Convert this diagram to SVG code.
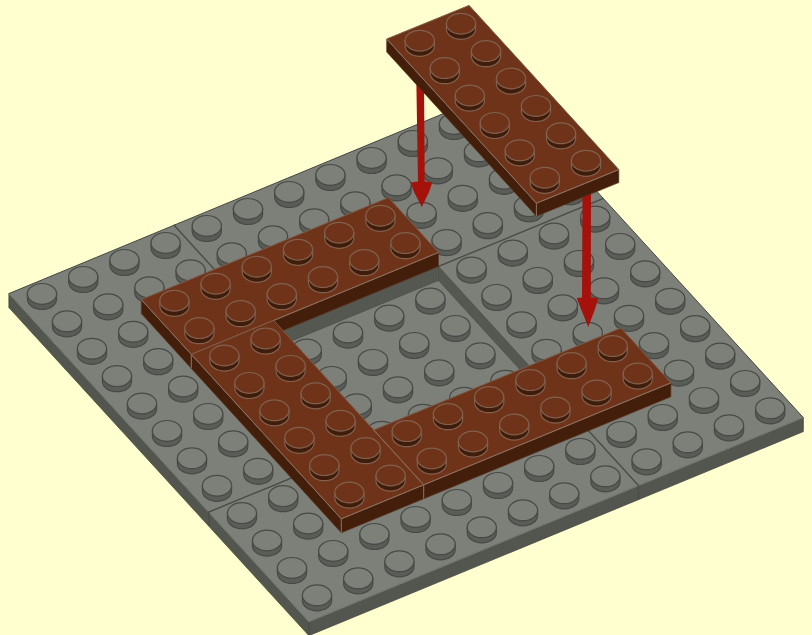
<svg xmlns="http://www.w3.org/2000/svg" width="812" height="635" viewBox="0 0 812 635">
<style>
.gt{fill:#7d7f79;stroke:#464843;stroke-width:1;stroke-linejoin:round}
.gs{fill:#53554f;stroke:#464843;stroke-width:.8;stroke-linejoin:round}
.gw{fill:#555751;stroke:#4a4c47;stroke-width:.6;stroke-linejoin:round}
.seam{fill:none;stroke:#4a4c47;stroke-width:1.4}
.edge{fill:none;stroke:#898b85;stroke-width:.8;stroke-linejoin:round}
.bt{fill:#6e3318;stroke:#7b5a47;stroke-width:1;stroke-linejoin:round}
.bs{fill:#431e0a;stroke:#5a3823;stroke-width:.7;stroke-linejoin:round}
.bedge{fill:none;stroke:#8c6f5e;stroke-width:1;stroke-linejoin:round}
.arrow{fill:#a5120c}
.sgb{fill:#5a5c57;stroke:#484a46;stroke-width:1.2}
.sgt{fill:#7d7f79;stroke:#484a46;stroke-width:1.2}
.sbb{fill:#401c0a;stroke:#80614f;stroke-width:1.2}
.sbt{fill:#6e3318;stroke:#80614f;stroke-width:1.2}
</style>
<defs>
<g id="s"><path class="sgb" d="M-14.6,.4V5.6A14.6,10.4 0 0 0 14.6,5.6V.4Z"/><ellipse class="sgt" cy=".4" rx="14.6" ry="10.4"/></g>
<g id="b"><path class="sbb" d="M-14.6,.4V5.6A14.6,10.4 0 0 0 14.6,5.6V.4Z"/><ellipse class="sbt" cy=".4" rx="14.6" ry="10.4"/></g>
<g id="rowEnds"><use href="#s"/><use href="#s" x="41.2" y="-17"/><use href="#s" x="412" y="-170"/><use href="#s" x="453.2" y="-187"/></g>
<g id="rowSides"><use href="#rowEnds"/><use href="#s" x="329.6" y="-136"/><use href="#s" x="370.8" y="-153"/></g>
<g id="rowMid"><use href="#s" x="164.8" y="-68"/><use href="#s" x="206" y="-85"/><use href="#s" x="247.2" y="-102"/><use href="#s" x="288.4" y="-119"/></g>
<g id="rowAll"><use href="#rowSides"/><use href="#s" x="82.4" y="-34"/><use href="#s" x="123.6" y="-51"/><use href="#rowMid"/></g>
<g id="b2"><use href="#b"/><use href="#b" x="41.2" y="-17"/></g>
<g id="b6"><use href="#b2"/><use href="#b2" x="82.4" y="-34"/><use href="#b2" x="164.8" y="-68"/></g>
</defs>
<rect id="background" width="812" height="635" fill="#ffffd0"/>

<g id="baseplate">
<polygon class="gs" points="8.9,293.6 308.9,621.8 308.9,635.6 8.9,307.6"/>
<polygon class="gs" points="308.9,621.8 803.3,417.6 803.3,431.6 308.9,635.6"/>
<polygon class="gt" points="8.9,293.6 503.3,88.8 803.3,417.6 308.9,621.8"/>
<polyline class="edge" points="8.9,293.6 308.9,621.8 803.3,417.6"/>
<path class="seam" d="M173.7,224.8L273.7,334.4M438.5,266.4L603.3,198.4M538.5,376L638.5,485.6V499.6M373.7,444L208.9,512V526"/>
</g>

<g id="hole">
<polygon class="gt" style="stroke:none" points="273.7,334.4 438.5,266.4 538.5,376 373.7,444"/>
<polygon class="gw" points="273.7,334.4 438.5,266.4 438.5,280.4 273.7,348.4"/>
<polygon class="gw" points="438.5,266.4 538.5,376 538.5,390 438.5,280.4"/>
<use href="#rowMid" x="142" y="417.1"/>
<use href="#rowMid" x="167" y="444.5"/>
<use href="#rowMid" x="192" y="471.9"/>
<use href="#rowMid" x="217" y="499.3"/>
</g>

<g id="base-studs">
<use href="#rowAll" x="42" y="293.5"/>
<use href="#rowAll" x="67" y="320.9"/>
<use href="#rowSides" x="92" y="348.3"/>
<use href="#rowSides" x="117" y="375.7"/>
<use href="#rowSides" x="142" y="403.1"/>
<use href="#rowSides" x="167" y="430.5"/>
<use href="#rowSides" x="192" y="457.9"/>
<use href="#rowSides" x="217" y="485.3"/>
<use href="#rowEnds" x="242" y="512.7"/>
<use href="#rowEnds" x="267" y="540.1"/>
<use href="#rowAll" x="292" y="567.5"/>
<use href="#rowAll" x="317" y="594.9"/>
</g>

<g id="brown-back">
<polygon class="bs" points="141.3,299.6 191.3,354.4 191.3,368.4 141.3,313.6"/>
<polygon class="bs" points="191.3,354.4 438.5,252.4 438.5,266.4 191.3,368.4"/>
<polygon class="bt" points="141.3,299.6 388.5,197.6 438.5,252.4 191.3,354.4"/>
<polyline class="bedge" points="141.3,299.6 191.3,354.4 438.5,252.4"/>
<use href="#b6" x="174.4" y="300.3"/>
<use href="#b6" x="199.4" y="327.7"/>
</g>

<g id="brown-left">
<polygon class="bs" points="191.3,354.4 341.3,518.8 341.3,532.8 191.3,368.4"/>
<polygon class="bs" points="341.3,518.8 423.7,484.8 423.7,498.8 341.3,532.8"/>
<polygon class="bt" points="191.3,354.4 273.7,320.4 423.7,484.8 341.3,518.8"/>
<polyline class="bedge" points="191.3,368.4 191.3,354.4 341.3,518.8 423.7,484.8"/>
<path class="bedge" d="M341.3,518.8V532.8"/>
<use href="#b2" x="224.4" y="355.1"/>
<use href="#b2" x="249.4" y="382.5"/>
<use href="#b2" x="274.4" y="409.9"/>
<use href="#b2" x="299.4" y="437.3"/>
<use href="#b2" x="324.4" y="464.7"/>
<use href="#b2" x="349.4" y="492.1"/>
</g>

<g id="brown-front">
<polygon class="bs" points="423.7,484.8 670.9,382.8 670.9,396.8 423.7,498.8"/>
<polygon class="bt" points="373.7,430 620.9,328 670.9,382.8 423.7,484.8"/>
<polyline class="bedge" points="373.7,430 423.7,484.8 670.9,382.8"/>
<path class="bedge" d="M423.7,484.8V498.8"/>
<use href="#b6" x="406.8" y="430.7"/>
<use href="#b6" x="431.8" y="458.1"/>
</g>

<g id="connectors">
<path class="arrow" d="M416.3,80L424,80L424.7,181.5L432.3,182.5L429,192L421.8,207L414,192L410.7,182.5L418,181.5Z"/>
<path class="arrow" d="M582.5,190L591,190L590.8,297.5L598.3,298L595,309L588.3,327L581,309L576.7,298L582,297.5Z"/>
</g>

<g id="brown-floating">
<polygon class="bs" points="386.7,39 536.4,203.2 536.4,216.2 386.7,52"/>
<polygon class="bs" points="536.4,203.2 618.8,169.6 618.8,182.6 536.4,216.2"/>
<polygon class="bt" points="386.7,39 469.1,5.4 618.8,169.6 536.4,203.2"/>
<polyline class="bedge" points="386.7,39 536.4,203.2 618.8,169.6"/>
<path class="bedge" d="M536.4,203.2V216.2"/>
<use href="#b2" x="419.8" y="40.3"/>
<use href="#b2" x="444.8" y="67.7"/>
<use href="#b2" x="469.8" y="95.1"/>
<use href="#b2" x="494.8" y="122.5"/>
<use href="#b2" x="519.8" y="149.9"/>
<use href="#b2" x="544.8" y="177.3"/>
</g>
</svg>
